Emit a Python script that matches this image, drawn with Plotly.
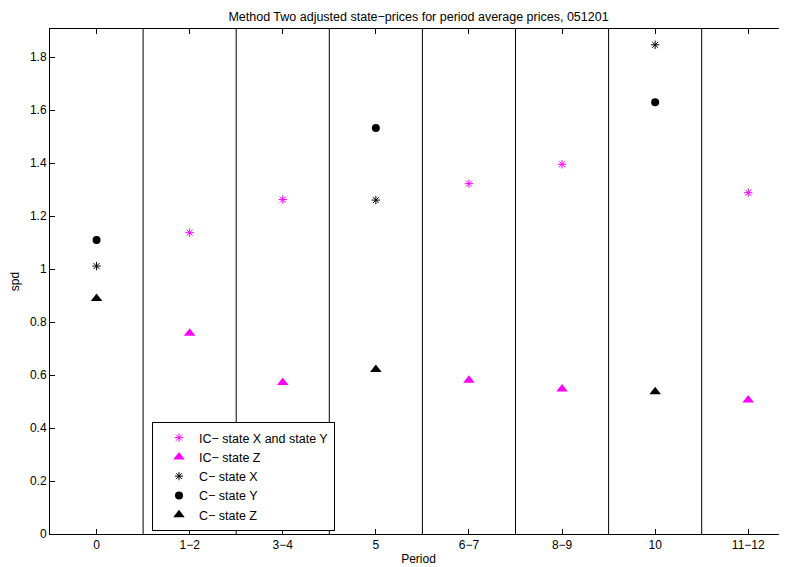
import plotly.graph_objects as go

categories = ["0", "1\u22122", "3\u22124", "5", "6\u22127", "8\u22129", "10", "11\u221212"]

# IC series (all periods except 0, 5, 10)
ic_xy_periods = ["1\u22122", "3\u22124", "6\u22127", "8\u22129", "11\u221212"]
ic_xy_values = [1.137, 1.262, 1.322, 1.395, 1.288]
ic_z_values = [0.758, 0.572, 0.580, 0.547, 0.506]

# C series (periods 0, 5, 10)
c_periods = ["0", "5", "10"]
c_x_values = [1.011, 1.260, 1.846]
c_y_values = [1.109, 1.532, 1.629]
c_z_values = [0.889, 0.621, 0.537]

yticks = [0, 0.2, 0.4, 0.6, 0.8, 1.0, 1.2, 1.4, 1.6, 1.8]
yticktext = ["0", "0.2", "0.4", "0.6", "0.8", "1", "1.2", "1.4", "1.6", "1.8"]

idx = {c: i for i, c in enumerate(categories)}
ic_x = [idx[p] for p in ic_xy_periods]
c_x = [idx[p] for p in c_periods]

MAG = "#ff00ff"
FONT = "Liberation Sans, Arial, Helvetica, sans-serif"

# page has an 8px body margin, so the figure is 779x559 placed at (8,8)
W, H = 779, 559
L, T, B = 42, 21, 33

fig = go.Figure()
fig.add_trace(go.Scatter(x=ic_x, y=ic_xy_values, mode="markers", name="IC\u2212 state X and state Y",
                         marker=dict(symbol="asterisk-open", size=7, color=MAG, line=dict(color=MAG, width=1))))
fig.add_trace(go.Scatter(x=ic_x, y=ic_z_values, mode="markers", name="IC\u2212 state Z",
                         marker=dict(symbol="triangle-up", size=10, color=MAG)))
fig.add_trace(go.Scatter(x=c_x, y=c_x_values, mode="markers", name="C\u2212 state X",
                         marker=dict(symbol="asterisk-open", size=7, color="black", line=dict(color="black", width=1))))
fig.add_trace(go.Scatter(x=c_x, y=c_y_values, mode="markers", name="C\u2212 state Y",
                         marker=dict(symbol="circle", size=8, color="black")))
fig.add_trace(go.Scatter(x=c_x, y=c_z_values, mode="markers", name="C\u2212 state Z",
                         marker=dict(symbol="triangle-up", size=10, color="black")))

for i in range(len(categories) - 1):
    fig.add_shape(type="line", xref="x", yref="paper", x0=i + 0.5, x1=i + 0.5, y0=0, y1=1,
                  line=dict(color="black", width=1), layer="below")

plot_w = W - L
plot_h = H - T - B

fig.update_layout(
    width=W, height=H,
    margin=dict(l=L, r=0, t=T, b=B, autoexpand=False),
    paper_bgcolor="white", plot_bgcolor="white",
    font=dict(family=FONT, size=12, color="black"),
    title=dict(text="Method Two adjusted state\u2212prices for period average prices, 051201",
               x=(L + plot_w / 2) / W, xanchor="center", y=1 - 9 / H, yanchor="middle",
               font=dict(size=12.5, color="black")),
    showlegend=True,
    legend=dict(x=(152 - 8 - L) / plot_w, y=(534 - 422) / plot_h, xanchor="left", yanchor="top",
                bgcolor="white", bordercolor="black", borderwidth=1, indentation=6,
                font=dict(size=12.5, color="black"), itemsizing="trace"),
)
fig.update_xaxes(range=[-0.5, -0.5 + plot_w / 93.1], tickvals=list(range(len(categories))), ticktext=categories,
                 ticks="inside", ticklen=5, tickcolor="black", showline=True, linecolor="black",
                 linewidth=1, mirror="ticks", showgrid=False, zeroline=False, automargin=False,
                 title=dict(text="Period", standoff=3, font=dict(size=12)))
fig.update_yaxes(range=[0, plot_h / 265], tickvals=yticks, ticktext=yticktext,
                 ticks="inside", ticklen=5, tickcolor="black", showline=True, linecolor="black",
                 linewidth=1, mirror=False, showgrid=False, zeroline=False, automargin=False,
                 title=dict(text="spd", standoff=12, font=dict(size=12)))

fig.write_html("out.html")
